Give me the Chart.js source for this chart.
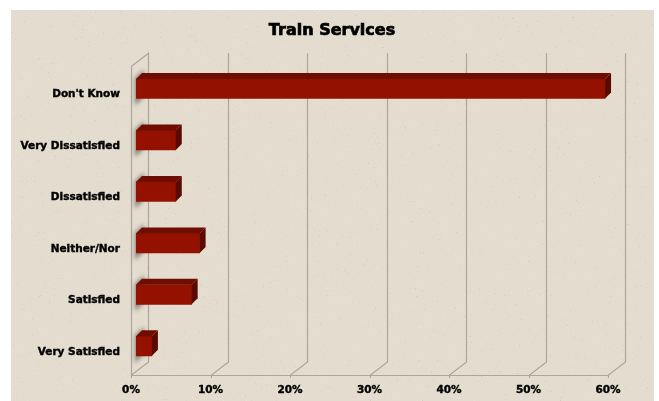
<!DOCTYPE html>
<html><head><meta charset="utf-8">
<script src="https://cdn.jsdelivr.net/npm/chart.js@4"></script>
<style>html,body{margin:0;padding:0;background:#fff}canvas{display:block;filter:blur(0.35px)}</style>
</head><body>
<div style="width:659px;height:401px"><canvas id="c" width="659" height="401"></canvas></div>
<script>
const categories = ["Don't Know","Very Dissatisfied","Dissatisfied","Neither/Nor","Satisfied","Very Satisfied"];
const values = [59,5,5,8,7,2];
const tickValues = [0,10,20,30,40,50,60];
const chartTitle = "Train Services";

const BACK_X=17, BACK_Y=-13, BAR_DX=5, BAR_DY=-3.2, DEPTH=6;

const paper={id:'paper',beforeDraw(ch){
  const g=ch.ctx; g.save();
  g.fillStyle='#fff'; g.fillRect(0,0,659,401);
  g.fillStyle='#e3dccf'; g.fillRect(11,10,643,391);
  // deterministic paper grain
  let s=12345;
  for(let i=0;i<5200;i++){
    s=(s*1103515245+12345)&0x7fffffff; const x=11+(s>>8)%643;
    s=(s*1103515245+12345)&0x7fffffff; const y=10+(s>>8)%391;
    s=(s*1103515245+12345)&0x7fffffff; const k=(s>>8)%10;
    g.fillStyle=k<5?'rgba(242,238,229,.4)':(k<9?'rgba(205,196,181,.28)':'rgba(170,160,145,.28)');
    g.fillRect(x,y,1,1);
  }
  g.restore();
}};

const walls={id:'walls',afterLayout(ch){
  ch.scales.y.left=0; // let the long category labels run past the scale box
},beforeDatasetsDraw(ch){
  const g=ch.ctx,a=ch.chartArea,xs=ch.scales.x;
  g.save(); g.strokeStyle='#aca69c'; g.lineWidth=1.2;
  xs.ticks.forEach((t,i)=>{
    const x=Math.round(xs.getPixelForTick(i))+.5;
    g.beginPath();
    g.moveTo(x,a.bottom+3); g.lineTo(x,a.bottom);
    g.lineTo(x+BACK_X,a.bottom+BACK_Y); g.lineTo(x+BACK_X,a.top+BACK_Y);
    if(i===0) g.lineTo(x,a.top);
    g.stroke();
  });
  g.beginPath();
  const l=Math.round(a.left)+.5;
  g.moveTo(l,a.top); g.lineTo(l,a.bottom+.5); g.lineTo(a.right,a.bottom+.5); g.stroke();
  // bar shadows on the side wall
  const m=ch.getDatasetMeta(0);
  g.filter='blur(2px)'; g.fillStyle='rgba(70,66,62,.62)';
  m.data.forEach(b=>{
    const top=b.y-b.height/2+BAR_DY, bot=b.y+b.height/2+BAR_DY;
    g.beginPath();
    g.moveTo(a.left+4,top-1); g.lineTo(a.left+13,top-9);
    g.lineTo(a.left+13,bot-2); g.lineTo(a.left+4,bot+7);
    g.closePath(); g.fill();
  });
  g.filter='none';
  g.restore();
  g.save(); g.translate(BAR_DX,BAR_DY);
},afterDatasetsDraw(ch){
  const g=ch.ctx,m=ch.getDatasetMeta(0);
  m.data.forEach(b=>{
    const t=b.y-b.height/2,bt=b.y+b.height/2,l=b.base,r=b.x;
    g.fillStyle='#700d02';
    g.beginPath(); g.moveTo(l,t); g.lineTo(l+DEPTH,t-DEPTH); g.lineTo(r+DEPTH,t-DEPTH); g.lineTo(r,t); g.closePath(); g.fill();
    g.fillStyle='#5a0900';
    g.beginPath(); g.moveTo(r,t); g.lineTo(r+DEPTH,t-DEPTH); g.lineTo(r+DEPTH,bt-DEPTH); g.lineTo(r,bt); g.closePath(); g.fill();
  });
  g.restore();
},afterDraw(ch){
  const g=ch.ctx,tb=ch.titleBlock;
  g.save();
  g.font='bold 16px "DejaVu Sans"';
  g.textAlign='center'; g.textBaseline='middle'; g.strokeStyle='#000'; g.lineWidth=.7;
  g.strokeText(chartTitle,(tb.left+tb.right)/2,tb.top+tb.options.padding.top+tb.options.font.lineHeight*tb.options.font.size/2);
  g.restore();
}};

const tickFont={family:'"DejaVu Sans"',size:10.5,weight:'bold'};
new Chart(document.getElementById('c'),{
  type:'bar',
  data:{labels:categories,datasets:[{data:values,backgroundColor:'#941100',borderWidth:0,barThickness:19.5}]},
  plugins:[paper,walls],
  options:{
    indexAxis:'y',responsive:false,animation:false,
    layout:{padding:{left:56,right:51,top:0,bottom:0}},
    plugins:{
      legend:{display:false},tooltip:{enabled:false},
      title:{display:true,text:chartTitle,color:'#000',align:'center',
        font:{family:'"DejaVu Sans"',size:16,weight:'bold',lineHeight:1.2},padding:{top:21,bottom:26}}
    },
    scales:{
      x:{type:'linear',min:tickValues[0],max:tickValues[tickValues.length-1],
        grid:{display:false},border:{display:false},
        afterFit(s){s.height=26;},
        afterBuildTicks(s){s.ticks=tickValues.map(v=>({value:v}));},
        ticks:{color:'#000',maxRotation:0,padding:1,font:tickFont,textStrokeColor:'#000',textStrokeWidth:.4,callback:v=>v+'%'}},
      y:{grid:{display:false},border:{display:false},
        afterFit(s){s.width=75;},
        ticks:{color:'#000',padding:3,labelOffset:2.5,font:tickFont,textStrokeColor:'#000',textStrokeWidth:.4,autoSkip:false}}
    }
  }
});
</script>
</body></html>
